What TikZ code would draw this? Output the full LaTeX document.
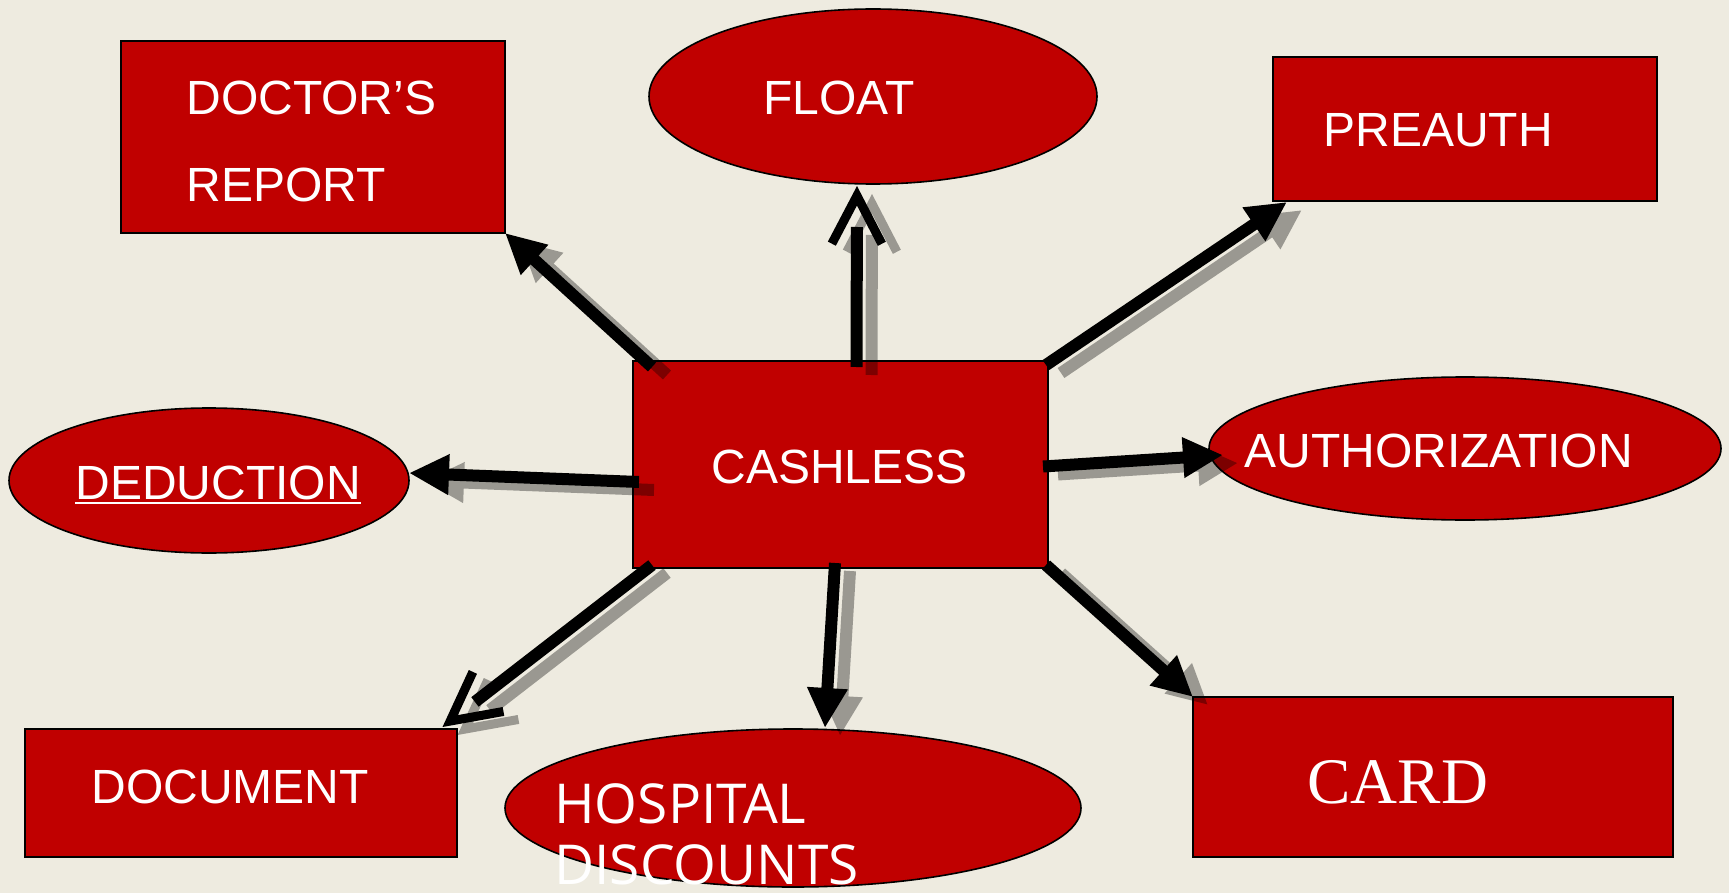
\documentclass[tikz,border=0pt]{standalone}
\usepackage{fontspec}
\setmainfont{Liberation Sans}
\newfontfamily\opensansf{Open Sans}
\newfontfamily\timesf{Liberation Serif}
\usetikzlibrary{arrows.meta,shapes.geometric,calc}
\definecolor{bg}{RGB}{238,235,224}
\definecolor{boxred}{RGB}{192,0,0}
\newcommand\shdline[3]{\draw[#1] ([shift={(15,8)}]#2) -- ([shift={(15,8)}]#3);}
\begin{document}
\begin{tikzpicture}[x=0.5pt,y=-0.5pt,
  rbox/.style={draw=black, line width=1pt, fill=boxred, rectangle, inner sep=0pt, outer sep=0pt},
  rell/.style={draw=black, line width=0.8pt, fill=boxred, ellipse, inner sep=0pt, outer sep=0pt},
  lbl/.style={text=white, font=\fontsize{24}{28}\selectfont, inner sep=0pt, anchor=base west},
  shaft/.style={line width=6pt, draw=black},
  fullhead/.style={shaft, -{Triangle[length=20pt,width=19pt]}},
  barbhead/.style={line width=0.05pt, draw=black, -{Straight Barb[length=24pt,width=25pt,line width=4.5pt]}},
]
\fill[bg] (0,0) rectangle (1729,893);
\useasboundingbox (0,0) rectangle (1729,893);

% shapes
\node[rbox, minimum width=192pt, minimum height=96pt] (doctor) at (313,137) {};
\node[rell, minimum width=224pt, minimum height=87.5pt] (float) at (873,96.5) {};
\node[rbox, minimum width=192pt, minimum height=72pt] (preauth) at (1465,129) {};
\node[rbox, minimum width=207.5pt, minimum height=103.5pt] (cash) at (840.5,464.5) {};
\node[rell, minimum width=200pt, minimum height=72.5pt] (deduction) at (209,480.5) {};
\node[rell, minimum width=256pt, minimum height=71.5pt] (auth) at (1465,448.5) {};
\node[rbox, minimum width=216pt, minimum height=64pt] (document) at (241,793) {};
\node[rell, minimum width=288pt, minimum height=79pt] (hospital) at (793,808) {};
\node[rbox, minimum width=240pt, minimum height=80pt] (card) at (1433,777) {};

% labels
\node[lbl] (doctor-t1) at (186,115) {DOCTOR’S};
\node[lbl] (doctor-t2) at (186,202) {REPORT};
\node[lbl] (float-t) at (763,115) {FLOAT};
\node[lbl] (preauth-t) at (1323,147) {PREAUTH};
\node[lbl] (cash-t) at (711,483) {CASHLESS};
\node[lbl] (ded-t) at (75,499) {DEDUCTION};
\draw[white, line width=1.2pt] ([yshift=-2pt]ded-t.base west) -- ([yshift=-2pt]ded-t.base east);
\node[lbl] (auth-t) at (1244,467) {AUTHORIZATION};
\node[lbl] (doc-t) at (91,803) {DOCUMENT};
\node[lbl, font=\opensansf\fontsize{27.5}{31}\selectfont] (hosp-t1) at (554,823) {HOSPITAL};
\node[lbl, font=\opensansf\fontsize{27.5}{31}\selectfont] (hosp-t2) at (554,884) {DISCOUNTS};
\node[lbl, font=\timesf\fontsize{32.5}{36}\selectfont] (card-t) at (1307,803) {CARD};

% connector end points
\coordinate (s1) at ([shift={(19,6)}]cash.north west);
\coordinate (t1) at (doctor.south east);
\coordinate (s2) at ([shift={(16,6)}]cash.north);
\coordinate (t2) at ([shift={(-16,2)}]float.south);
\coordinate (e2) at ($(t2)!20.5pt!(s2)$);
\coordinate (b2) at ($(t2)!1pt!(s2)$);
\coordinate (s3) at ([shift={(-2,4)}]cash.north east);
\coordinate (t3) at ([shift={(14,1)}]preauth.south west);
\coordinate (s4) at ([shift={(-5,2)}]cash.east);
\coordinate (t4) at ([shift={(14,6.5)}]auth.west);
\coordinate (s5) at ([shift={(6,17.5)}]cash.west);
\coordinate (t5) at ([shift={(0,-7.5)}]deduction.east);
\coordinate (s6) at ([shift={(19,-3)}]cash.south west);
\coordinate (t6) at ([shift={(-14.5,-2)}]document.north east);
\coordinate (e6) at ($(t6)!20.5pt!(s6)$);
\coordinate (b6) at ($(t6)!1pt!(s6)$);
\coordinate (s7) at ([shift={(-5.5,-5)}]cash.south);
\coordinate (t7) at ([shift={(32,-1)}]hospital.north);
\coordinate (s8) at ([shift={(-2,-3)}]cash.south east);
\coordinate (t8) at (card.north west);

% shadows
\begin{scope}[transparency group, opacity=0.35]
\shdline{fullhead}{s1}{t1}
\shdline{shaft}{s2}{e2}
\shdline{barbhead}{b2}{t2}
\shdline{fullhead}{s3}{t3}
\shdline{fullhead}{s4}{t4}
\shdline{fullhead}{s5}{t5}
\shdline{shaft}{s6}{e6}
\shdline{barbhead}{b6}{t6}
\shdline{fullhead}{s7}{t7}
\shdline{fullhead}{s8}{t8}
\end{scope}

% connectors
\draw[fullhead] (s1) -- (t1);
\draw[shaft] (s2) -- (e2);
\draw[barbhead] (b2) -- (t2);
\draw[fullhead] (s3) -- (t3);
\draw[fullhead] (s4) -- (t4);
\draw[fullhead] (s5) -- (t5);
\draw[shaft] (s6) -- (e6);
\draw[barbhead] (b6) -- (t6);
\draw[fullhead] (s7) -- (t7);
\draw[fullhead] (s8) -- (t8);
\end{tikzpicture}
\end{document}
